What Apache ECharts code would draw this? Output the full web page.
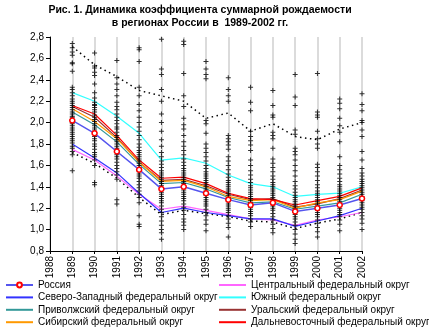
<!DOCTYPE html>
<html>
<head>
<meta charset="utf-8">
<script src="https://cdn.jsdelivr.net/npm/echarts@6/dist/echarts.min.js"></script>
<style>
html,body{margin:0;padding:0;background:#fff;}
#chart{width:429px;height:335px;}
</style>
</head>
<body>
<div id="chart"></div>
<script>
var years = ['1988','1989','1990','1991','1992','1993','1994','1995','1996','1997','1998','1999','2000','2001','2002'];

// district lines (1988 has no data)
var russia      = [null,2.02,1.90,1.73,1.56,1.38,1.40,1.34,1.28,1.23,1.25,1.17,1.20,1.23,1.29];
var central     = [null,1.75,1.65,1.50,1.33,1.19,1.22,1.18,1.14,1.10,1.09,1.04,1.09,1.12,1.16];
var northWest   = [null,1.80,1.67,1.53,1.34,1.16,1.20,1.16,1.13,1.10,1.10,1.03,1.08,1.13,1.20];
var south       = [null,2.28,2.20,2.06,1.90,1.65,1.67,1.62,1.51,1.43,1.40,1.31,1.33,1.34,1.40];
var volga       = [null,2.10,1.98,1.82,1.61,1.43,1.44,1.38,1.30,1.25,1.26,1.19,1.22,1.25,1.33];
var ural        = [null,2.15,2.05,1.86,1.63,1.46,1.47,1.41,1.33,1.28,1.29,1.21,1.24,1.29,1.37];
var siberia     = [null,2.13,2.01,1.85,1.63,1.45,1.46,1.40,1.31,1.27,1.28,1.20,1.25,1.28,1.36];
var farEast     = [null,2.16,2.08,1.88,1.65,1.48,1.49,1.43,1.34,1.29,1.28,1.23,1.27,1.31,1.39];
var upperDotted = [null,2.71,2.54,2.43,2.30,2.25,2.20,2.04,2.09,1.92,1.99,1.87,1.84,1.94,2.00];
var lowerDotted = [null,1.72,1.62,1.48,1.30,1.14,1.18,1.15,1.12,1.08,1.07,1.01,1.06,1.10,1.16];

// regional values per year
var r1989 = [2.74,2.70,2.66,2.63,2.56,2.55,2.48,2.33,2.31,2.28,2.25,2.22,2.20,2.18,2.16,2.14,2.12,2.10,2.08,2.06,2.05,2.03,2.02,2.00,1.99,1.97,1.95,1.93,1.91,1.89,1.87,1.85,1.83,1.81,1.78,1.76,1.73,1.70,1.55];
var r1990 = [2.65,2.53,2.51,2.47,2.44,2.36,2.28,2.23,2.19,2.17,2.16,2.14,2.12,2.10,2.07,2.05,2.03,2.01,1.99,1.97,1.95,1.93,1.91,1.89,1.87,1.85,1.83,1.80,1.78,1.75,1.72,1.70,1.68,1.65,1.60,1.44,1.42];
var r1991 = [2.58,2.42,2.36,2.31,2.25,2.19,2.15,2.12,2.08,2.05,2.02,1.99,1.96,1.94,1.91,1.88,1.86,1.84,1.82,1.80,1.78,1.76,1.74,1.72,1.70,1.68,1.66,1.63,1.60,1.57,1.54,1.51,1.47,1.28,1.24];
var r1992 = [2.70,2.68,2.57,2.33,2.25,2.17,2.11,2.05,2.00,1.96,1.92,1.88,1.84,1.80,1.77,1.74,1.72,1.70,1.68,1.66,1.64,1.62,1.60,1.58,1.56,1.54,1.52,1.50,1.48,1.45,1.42,1.39,1.36,1.33,1.30,1.25,1.13,1.05,1.03];
var r1993 = [2.78,2.50,2.45,2.31,2.20,2.08,2.00,1.92,1.84,1.78,1.72,1.68,1.64,1.61,1.58,1.55,1.53,1.51,1.49,1.47,1.45,1.43,1.41,1.39,1.37,1.35,1.33,1.31,1.29,1.27,1.25,1.22,1.19,1.16,1.12,1.08,1.04,1.00,0.97,0.91];
var r1994 = [2.76,2.73,2.46,2.25,2.15,2.04,1.98,1.94,1.88,1.82,1.78,1.74,1.70,1.66,1.63,1.60,1.57,1.55,1.53,1.51,1.49,1.47,1.45,1.43,1.41,1.39,1.37,1.35,1.33,1.31,1.29,1.27,1.24,1.21,1.18,1.14,1.10,1.07,1.04,1.00];
var r1995 = [2.57,2.50,2.45,2.41,2.02,1.99,1.90,1.80,1.76,1.72,1.68,1.64,1.60,1.57,1.54,1.52,1.50,1.48,1.46,1.44,1.42,1.40,1.38,1.36,1.34,1.32,1.30,1.28,1.26,1.24,1.22,1.19,1.16,1.13,1.09,1.05,0.99];
var r1996 = [2.42,2.31,2.25,2.20,1.88,1.85,1.82,1.79,1.75,1.68,1.64,1.60,1.56,1.52,1.49,1.46,1.44,1.42,1.40,1.38,1.36,1.34,1.32,1.30,1.28,1.26,1.24,1.22,1.20,1.18,1.16,1.13,1.10,1.06,1.02,0.93];
var r1997 = [2.33,2.19,2.11,1.92,1.87,1.83,1.79,1.74,1.65,1.60,1.55,1.51,1.47,1.44,1.41,1.39,1.37,1.35,1.33,1.31,1.29,1.27,1.25,1.23,1.21,1.19,1.17,1.15,1.13,1.10,1.07,1.03];
var r1998 = [2.30,2.16,2.07,2.05,1.91,1.88,1.85,1.76,1.66,1.62,1.58,1.54,1.50,1.47,1.44,1.42,1.40,1.38,1.36,1.34,1.32,1.30,1.28,1.26,1.24,1.22,1.20,1.18,1.15,1.12,1.09,1.05,1.01,0.97];
var r1999 = [2.45,2.24,2.16,1.93,1.89,1.76,1.73,1.70,1.65,1.60,1.55,1.50,1.45,1.41,1.38,1.35,1.32,1.30,1.28,1.26,1.24,1.22,1.20,1.18,1.16,1.14,1.12,1.10,1.07,1.04,1.00,0.96,0.91,0.87];
var r2000 = [2.46,2.10,2.07,2.05,1.92,1.85,1.80,1.76,1.61,1.58,1.54,1.50,1.46,1.42,1.39,1.36,1.34,1.32,1.30,1.28,1.26,1.24,1.22,1.20,1.18,1.16,1.14,1.12,1.09,1.06,1.02,0.98,0.93];
var r2001 = [2.22,2.18,2.13,2.04,1.97,1.91,1.82,1.68,1.60,1.56,1.52,1.48,1.45,1.42,1.40,1.38,1.36,1.34,1.32,1.30,1.28,1.26,1.24,1.22,1.20,1.18,1.16,1.14,1.12,1.09,1.05,0.99];
var r2002 = [2.27,2.17,2.11,2.02,2.00,1.93,1.87,1.73,1.65,1.57,1.53,1.50,1.47,1.45,1.43,1.41,1.39,1.37,1.35,1.33,1.31,1.29,1.27,1.25,1.23,1.21,1.19,1.16,1.13,1.10,1.06,1.00];

var regional = {'1989':r1989,'1990':r1990,'1991':r1991,'1992':r1992,'1993':r1993,'1994':r1994,'1995':r1995,
  '1996':r1996,'1997':r1997,'1998':r1998,'1999':r1999,'2000':r2000,'2001':r2001,'2002':r2002};

var scatterData = [];
Object.keys(regional).forEach(function (y) {
  regional[y].forEach(function (v) { scatterData.push([y, v]); });
});

var FONT = '"Liberation Sans", Arial, sans-serif';
var names = ['Россия','Центральный федеральный округ','Северо-Западный федеральный округ','Южный федеральный округ',
  'Приволжский федеральный округ','Уральский федеральный округ','Сибирский федеральный округ','Дальневосточный федеральный округ'];

function line(name, data, color, z) {
  return {name: name, type: 'line', data: data, symbol: 'none', z: z || 3,
    lineStyle: {color: color, width: 1.2}, itemStyle: {color: color}, animation: false};
}
function legItem(n) {
  return n === names[0] ? {name: n} : {name: n, itemStyle: {opacity: 0}};
}
var legendCommon = {
  orient: 'vertical', top: 279, padding: 0, height: 56,
  itemWidth: 27, itemHeight: 6, itemGap: 0.4,
  textStyle: {fontSize: 10, color: '#000', fontFamily: FONT, lineHeight: 12}
};

var chart = echarts.init(document.getElementById('chart'), null, {renderer: 'canvas'});
chart.setOption({
  animation: false,
  textStyle: {fontFamily: FONT},
  graphic: [
    {type: 'text', x: 200, y: 5, style: {text: 'Рис. 1. Динамика коэффициента суммарной рождаемости',
      textAlign: 'center', font: 'bold 10.5px ' + FONT, fill: '#000'}},
    {type: 'text', x: 200, y: 18, style: {text: 'в регионах России в  1989-2002 гг.',
      textAlign: 'center', font: 'bold 10.5px ' + FONT, fill: '#000'}}
  ],
  grid: {left: 50, right: 67, top: 37, bottom: 84},
  xAxis: {
    type: 'category', data: years, boundaryGap: false,
    axisLine: {lineStyle: {color: '#000', width: 1}},
    axisTick: {show: true, length: 3, lineStyle: {color: '#000'}},
    axisLabel: {rotate: 90, fontSize: 10, color: '#000', fontFamily: FONT, margin: 5},
    splitLine: {show: true, lineStyle: {color: '#cfcfcf', width: 1.5}}
  },
  yAxis: {
    type: 'value', min: 0.8, max: 2.8, interval: 0.2,
    axisLine: {show: true, lineStyle: {color: '#000', width: 1}},
    axisTick: {show: true, length: 4, lineStyle: {color: '#000'}},
    axisLabel: {fontSize: 10, color: '#000', fontFamily: FONT, margin: 6,
      formatter: function (v) { return v.toFixed(1).replace('.', ','); }},
    splitLine: {show: false}
  },
  legend: [
    Object.assign({}, legendCommon, {left: 5, data: [names[0], names[2], names[4], names[6]].map(legItem)}),
    Object.assign({}, legendCommon, {left: 218, data: [names[1], names[3], names[5], names[7]].map(legItem)})
  ],
  series: [
    {name: 'upper', type: 'line', data: upperDotted, symbol: 'none', z: 2,
      lineStyle: {color: '#000', width: 1.5, type: [1.5, 3.5]}},
    {name: 'lower', type: 'line', data: lowerDotted, symbol: 'none', z: 2,
      lineStyle: {color: '#000', width: 1.5, type: [1.5, 3.5]}},
    line(names[1], central, '#ff66ff'),
    line(names[2], northWest, '#3333ff'),
    line(names[3], south, '#33ffff'),
    line(names[4], volga, '#339999'),
    line(names[5], ural, '#993333'),
    line(names[6], siberia, '#ff9900'),
    line(names[7], farEast, '#ff0000'),
    {name: 'regions', type: 'scatter', data: scatterData, z: 4,
      symbol: 'path://M2,0H3V2H5V3H3V5H2V3H0V2H2Z', symbolSize: 5,
      itemStyle: {color: '#000'}},
    {name: names[0], type: 'line', data: russia, z: 5, symbol: 'circle', symbolSize: 5, showSymbol: true,
      lineStyle: {color: '#5555ee', width: 1.5},
      itemStyle: {color: '#ffffff', borderColor: '#ff0000', borderWidth: 1.5}}
  ]
});
</script>
</body>
</html>
